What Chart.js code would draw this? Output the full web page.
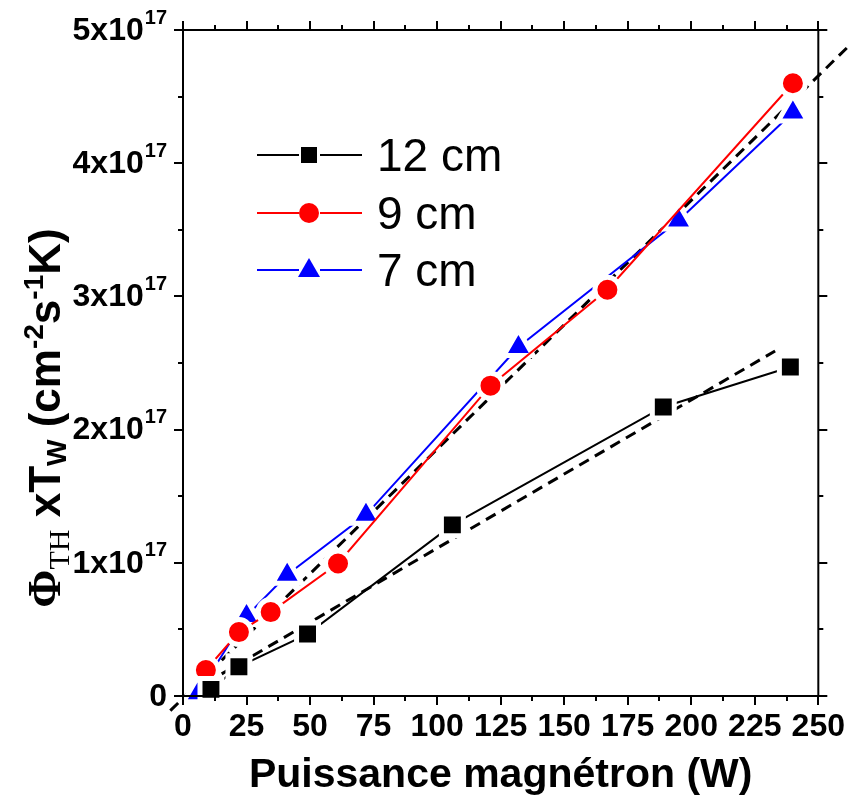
<!DOCTYPE html>
<html>
<head>
<meta charset="utf-8">
<script src="https://cdn.jsdelivr.net/npm/chart.js@4/dist/chart.umd.min.js"></script>
<style>
  body { margin: 0; background: #fff; }
  canvas { display: block; }
</style>
</head>
<body>
<canvas id="fluxChart" width="849" height="804"></canvas>
<script>
  // values, y in units of 1e17 cm-2 s-1 K
  const watts12 = [11, 22, 49, 106, 189, 239];
  const flux12 = [0.05, 0.22, 0.465, 1.285, 2.17, 2.47];
  const watts9 = [9, 22, 34.5, 61, 121, 167, 240];
  const flux9 = [0.195, 0.48, 0.63, 0.995, 2.33, 3.05, 4.60];
  const watts7 = [6, 25, 41, 72, 132, 195, 240];
  const flux7 = [0.02, 0.60, 0.91, 1.36, 2.62, 3.57, 4.38];

  // dashed linear fits
  const fitSteepX = [-5, 262];
  const fitSteepY = [-0.11, 4.88];
  const fitLowX = [3, 233];
  const fitLowY = [0.03, 2.59];

  const yTickValues = [0, 1, 2, 3, 4, 5];
  const yTickLabels = ['0', '1x10', '2x10', '3x10', '4x10', '5x10'];
  const yExponent = '17';
  const seriesLabels = ['12 cm', '9 cm', '7 cm'];

  const SANS = '"Liberation Sans", Arial, sans-serif';
  const SERIF = '"Liberation Serif", "Times New Roman", serif';

  function pairs(xs, ys) {
    return xs.map((x, i) => ({ x: x, y: ys[i] }));
  }

  // frame, minor/major ticks on all four sides, y labels
  const framePlugin = {
    id: 'frame',
    afterDraw(chart) {
      const ctx = chart.ctx;
      const a = chart.chartArea;
      const xs = chart.scales.x;
      const ys = chart.scales.y;
      ctx.save();
      ctx.strokeStyle = '#000';
      ctx.lineWidth = 2;
      ctx.strokeRect(a.left, a.top, a.right - a.left, a.bottom - a.top);
      ctx.beginPath();
      for (let v = 0; v <= 250; v += 12.5) {
        const len = v % 25 === 0 ? 9 : 5;
        const px = Math.round(xs.getPixelForValue(v));
        ctx.moveTo(px, a.bottom); ctx.lineTo(px, a.bottom + len);
        ctx.moveTo(px, a.top); ctx.lineTo(px, a.top - len);
      }
      for (let v = 0; v <= 5; v += 0.5) {
        const len = v % 1 === 0 ? 9 : 5;
        const py = Math.round(ys.getPixelForValue(v));
        ctx.moveTo(a.left, py); ctx.lineTo(a.left - len, py);
        ctx.moveTo(a.right, py); ctx.lineTo(a.right + len, py);
      }
      ctx.stroke();

      // y tick labels with superscript exponent
      ctx.fillStyle = '#000';
      ctx.textBaseline = 'middle';
      ctx.textAlign = 'right';
      const rightEdge = a.left - 16;
      yTickValues.forEach((v, i) => {
        const py = ys.getPixelForValue(v);
        if (yTickLabels[i] === '0') {
          ctx.font = 'bold 32px ' + SANS;
          ctx.fillText('0', rightEdge, py + 1);
          return;
        }
        ctx.font = 'bold 20px ' + SANS;
        const w = ctx.measureText(yExponent).width;
        ctx.fillText(yExponent, rightEdge, py - 12);
        ctx.font = 'bold 32px ' + SANS;
        ctx.fillText(yTickLabels[i], rightEdge - w - 1, py + 1);
      });
      ctx.restore();
    }
  };

  // rotated y title with sub/superscripts
  const yTitlePlugin = {
    id: 'yTitle',
    afterDraw(chart) {
      const ctx = chart.ctx;
      const parts = [
        { t: '\u03A6', f: 'bold 46px ' + SERIF, dy: 0 },
        { t: 'TH', f: '30px ' + SERIF, dy: 9 },
        { t: ' xT', f: 'bold 44px ' + SANS, dy: 0 },
        { t: 'W', f: 'bold 28px ' + SANS, dy: 6 },
        { t: ' (cm', f: 'bold 44px ' + SANS, dy: 0 },
        { t: '-2', f: 'bold 28px ' + SANS, dy: -17 },
        { t: 's', f: 'bold 44px ' + SANS, dy: 0 },
        { t: '-1', f: 'bold 28px ' + SANS, dy: -17 },
        { t: 'K)', f: 'bold 44px ' + SANS, dy: 0 }
      ];
      ctx.save();
      let total = 0;
      parts.forEach(p => { ctx.font = p.f; p.w = ctx.measureText(p.t).width; total += p.w; });
      ctx.translate(60, 418);
      ctx.rotate(-Math.PI / 2);
      ctx.fillStyle = '#000';
      ctx.textBaseline = 'alphabetic';
      ctx.textAlign = 'left';
      let x = -total / 2;
      parts.forEach(p => { ctx.font = p.f; ctx.fillText(p.t, x, p.dy); x += p.w; });
      ctx.restore();
    }
  };

  // legend in Origin style: line - marker - line
  const legendPlugin = {
    id: 'originLegend',
    afterDraw(chart) {
      const ctx = chart.ctx;
      const rows = [155, 213, 270];
      ctx.save();
      for (let i = 0; i < 3; i++) {
        const ds = chart.data.datasets[i];
        const y = rows[i];
        ctx.strokeStyle = ds.borderColor;
        ctx.lineWidth = 2;
        ctx.beginPath();
        ctx.moveTo(257, y); ctx.lineTo(299, y);
        ctx.moveTo(320, y); ctx.lineTo(362, y);
        ctx.stroke();
        ctx.fillStyle = ds.pointBackgroundColor;
        ctx.beginPath();
        if (ds.pointStyle === 'rect') {
          ctx.rect(309 - 8, y - 8, 16, 16);
        } else if (ds.pointStyle === 'circle') {
          ctx.arc(309, y, 10, 0, Math.PI * 2);
        } else {
          ctx.moveTo(309, y - 12);
          ctx.lineTo(309 + 11, y + 7);
          ctx.lineTo(309 - 11, y + 7);
          ctx.closePath();
        }
        ctx.fill();
        ctx.fillStyle = '#000';
        ctx.font = '46px ' + SANS;
        ctx.textBaseline = 'middle';
        ctx.textAlign = 'left';
        ctx.fillText(ds.label, 377, y + 3);
      }
      ctx.restore();
    }
  };

  function series(label, xs, ys, color, style, radius) {
    return {
      label: label,
      data: pairs(xs, ys),
      borderColor: color,
      borderWidth: 2,
      pointStyle: style,
      pointRadius: radius,
      pointHoverRadius: radius,
      pointBackgroundColor: color,
      pointBorderColor: '#fff',
      pointBorderWidth: 5,
      tension: 0,
      order: 1,
      clip: 12
    };
  }

  function fitLine(xs, ys) {
    return {
      label: 'fit',
      data: pairs(xs, ys),
      borderColor: '#000',
      borderWidth: 3,
      borderDash: [11, 7],
      pointRadius: 0,
      tension: 0,
      order: 10,
      clip: false
    };
  }

  new Chart(document.getElementById('fluxChart'), {
    type: 'line',
    data: {
      datasets: [
        series(seriesLabels[0], watts12, flux12, '#000000', 'rect', 15.5),
        series(seriesLabels[1], watts9, flux9, '#ff0000', 'circle', 12.5),
        series(seriesLabels[2], watts7, flux7, '#0000ff', 'triangle', 17),
        fitLine(fitSteepX, fitSteepY),
        fitLine(fitLowX, fitLowY)
      ]
    },
    options: {
      responsive: false,
      animation: false,
      events: [],
      layout: { padding: { top: 30, right: 30, left: 0, bottom: 0 } },
      plugins: { legend: { display: false }, tooltip: { enabled: false } },
      scales: {
        x: {
          type: 'linear',
          min: 0,
          max: 250,
          grid: { display: false },
          border: { display: false },
          ticks: {
            stepSize: 25,
            autoSkip: false,
            maxRotation: 0,
            color: '#000',
            padding: 4,
            font: { family: SANS, size: 32, weight: 'bold' }
          },
          title: {
            display: true,
            text: 'Puissance magnétron (W)',
            color: '#000',
            padding: { top: 0, bottom: 4 },
            font: { family: SANS, size: 41, weight: 'bold' }
          },
          afterFit(scale) { scale.height = 108; }
        },
        y: {
          type: 'linear',
          min: 0,
          max: 5,
          grid: { display: false },
          border: { display: false },
          ticks: { display: false, stepSize: 1 },
          afterFit(scale) { scale.width = 183; }
        }
      }
    },
    plugins: [framePlugin, yTitlePlugin, legendPlugin]
  });
</script>
</body>
</html>
